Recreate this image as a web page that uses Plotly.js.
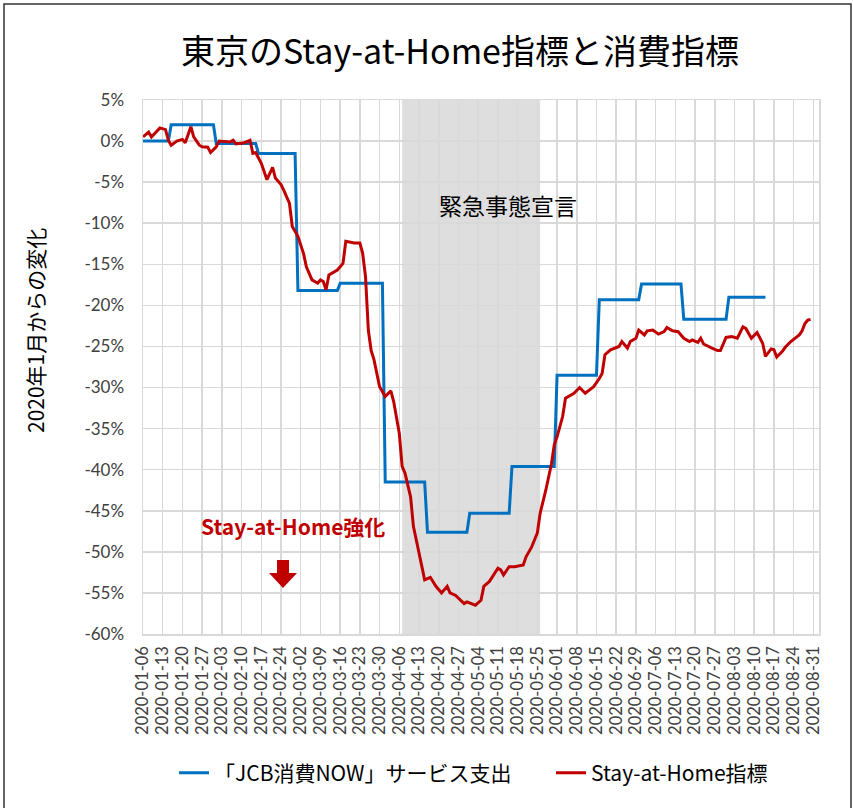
<!DOCTYPE html>
<html><head><meta charset="utf-8">
<script src="https://cdn.plot.ly/plotly-3.0.1.min.js"></script>
<style>html,body{margin:0;padding:0;background:#fff}#chart{width:853px;height:808px}</style>
</head><body><div id="chart"></div>
<script>
// ---- data ----
const weekLabels = ['2020-01-06','2020-01-13','2020-01-20','2020-01-27','2020-02-03','2020-02-10','2020-02-17','2020-02-24',
  '2020-03-02','2020-03-09','2020-03-16','2020-03-23','2020-03-30','2020-04-06','2020-04-13','2020-04-20','2020-04-27',
  '2020-05-04','2020-05-11','2020-05-18','2020-05-25','2020-06-01','2020-06-08','2020-06-15','2020-06-22','2020-06-29',
  '2020-07-06','2020-07-13','2020-07-20','2020-07-27','2020-08-03','2020-08-10','2020-08-17','2020-08-24','2020-08-31'];
const yTicks = [5,0,-5,-10,-15,-20,-25,-30,-35,-40,-45,-50,-55,-60];

// 「JCB消費NOW」サービス支出 (semi-monthly, % change)
const jcbStart = ['2020-01-06','2020-01-16','2020-02-01','2020-02-16','2020-03-01','2020-03-16','2020-04-01','2020-04-16',
  '2020-05-01','2020-05-16','2020-06-01','2020-06-16','2020-07-01','2020-07-16','2020-08-01'];
const jcbEnd = ['2020-01-15','2020-01-31','2020-02-15','2020-02-29','2020-03-15','2020-03-31','2020-04-15','2020-04-30',
  '2020-05-15','2020-05-31','2020-06-15','2020-06-30','2020-07-15','2020-07-31','2020-08-14'];
const jcbValues = [0.0, 2.0, -0.3, -1.5, -18.2, -17.3, -41.5, -47.6, -45.3, -39.6, -28.5, -19.3, -17.4, -21.7, -19.0];

// Stay-at-Home指標 (daily, % change)
const sahDates = ['2020-01-06','2020-01-08','2020-01-09','2020-01-12','2020-01-14','2020-01-15','2020-01-16','2020-01-18',
  '2020-01-20','2020-01-21','2020-01-23','2020-01-24','2020-01-26','2020-01-27','2020-01-29','2020-01-30','2020-02-01',
  '2020-02-02','2020-02-06','2020-02-07','2020-02-08','2020-02-11','2020-02-13','2020-02-14','2020-02-15','2020-02-17',
  '2020-02-19','2020-02-21','2020-02-22','2020-02-24','2020-02-25','2020-02-27','2020-02-28','2020-03-01','2020-03-03',
  '2020-03-04','2020-03-06','2020-03-08','2020-03-09','2020-03-10','2020-03-11','2020-03-12','2020-03-15','2020-03-17',
  '2020-03-18','2020-03-21','2020-03-23','2020-03-24','2020-03-25','2020-03-26','2020-03-27','2020-03-28','2020-03-30',
  '2020-04-01','2020-04-03','2020-04-04','2020-04-06','2020-04-07','2020-04-08','2020-04-10','2020-04-11','2020-04-13',
  '2020-04-15','2020-04-17','2020-04-19','2020-04-21','2020-04-23','2020-04-24','2020-04-26','2020-04-29','2020-04-30',
  '2020-05-03','2020-05-05','2020-05-06','2020-05-08','2020-05-11','2020-05-12','2020-05-13','2020-05-15','2020-05-17',
  '2020-05-20','2020-05-21','2020-05-23','2020-05-25','2020-05-26','2020-05-28','2020-05-30','2020-05-31','2020-06-01',
  '2020-06-03','2020-06-04','2020-06-07','2020-06-09','2020-06-11','2020-06-14','2020-06-16','2020-06-17','2020-06-18',
  '2020-06-20','2020-06-23','2020-06-24','2020-06-26','2020-06-27','2020-06-29','2020-06-30','2020-07-02','2020-07-03',
  '2020-07-05','2020-07-07','2020-07-09','2020-07-10','2020-07-12','2020-07-14','2020-07-16','2020-07-18','2020-07-19',
  '2020-07-21','2020-07-22','2020-07-23','2020-07-26','2020-07-28','2020-07-29','2020-07-31','2020-08-02','2020-08-04',
  '2020-08-06','2020-08-07','2020-08-09','2020-08-11','2020-08-13','2020-08-14','2020-08-16','2020-08-17','2020-08-18',
  '2020-08-20','2020-08-21','2020-08-23','2020-08-26','2020-08-27','2020-08-28','2020-08-29','2020-08-30'];
const sahValues = [0.5,1.1,0.5,1.6,1.4,0.1,-0.5,0.0,
  0.2,-0.2,1.75,0.5,-0.5,-0.7,-0.75,-1.4,-0.7,
  0.0,-0.1,0.1,-0.35,-0.2,0.1,-1.5,-1.4,-2.7,
  -4.7,-3.2,-4.5,-5.3,-6.0,-7.6,-10.4,-11.6,-13.7,
  -15.3,-16.9,-17.3,-16.9,-17.1,-18.1,-16.3,-15.7,-14.9,
  -12.2,-12.4,-12.4,-13.7,-16.5,-23.0,-25.5,-26.6,-29.9,
  -31.1,-30.4,-31.7,-35.6,-39.6,-40.4,-43.3,-46.9,-50.2,
  -53.4,-53.1,-54.2,-55.0,-54.2,-55.0,-55.3,-56.3,-56.1,
  -56.5,-55.9,-54.2,-53.6,-52.0,-52.2,-52.8,-51.8,-51.8,
  -51.6,-50.6,-49.4,-47.7,-45.3,-42.5,-39.3,-37.0,-36.0,
  -33.5,-31.3,-30.7,-30.0,-30.7,-29.9,-28.9,-28.3,-26.0,
  -25.4,-25.0,-24.4,-25.2,-24.4,-24.0,-23.0,-23.6,-23.1,
  -23.0,-23.5,-23.2,-22.7,-23.1,-23.2,-24.0,-24.4,-24.2,
  -24.5,-24.0,-24.7,-25.2,-25.5,-25.5,-23.9,-23.8,-24.0,
  -22.6,-22.8,-24.0,-23.3,-24.6,-26.2,-25.3,-25.4,-26.3,
  -25.6,-25.1,-24.4,-23.6,-23.1,-22.2,-21.8,-21.7];

const emergencyStart = '2020-04-07';
const emergencyEnd = '2020-05-26';

// ---- layout geometry ----
const W = 853, H = 808;
const M = {l: 143, r: 34, t: 100, b: 174, autoexpand: false};
const PW = W - M.l - M.r, PH = H - M.t - M.b;
const px2x = p => (p - M.l) / PW;
const px2y = p => (H - M.b - p) / PH;

// build step trace from periods
const jcbX = [], jcbY = [];
jcbValues.forEach((v, i) => { jcbX.push(jcbStart[i], jcbEnd[i]); jcbY.push(v, v); });

const BLUE = '#0070C0', RED = '#C00000';
const CJK = "'Noto Sans CJK JP', 'Noto Sans', sans-serif";
const TICKF = "Lato, 'Noto Sans', sans-serif";

const traces = [
  {x: jcbX, y: jcbY, type: 'scatter', mode: 'lines', name: '「JCB消費NOW」サービス支出',
   line: {color: BLUE, width: 3}, legend: 'legend'},
  {x: sahDates, y: sahValues, type: 'scatter', mode: 'lines', name: 'Stay-at-Home指標',
   line: {color: RED, width: 3}, legend: 'legend2'}
];

// block arrow (decoration) in pixel coords -> paper
const arrowPx = [[277,560],[289,560],[289,573],[297,573],[283,588],[269,573],[277,573]];
const arrowPath = 'M' + arrowPx.map(p => px2x(p[0]).toFixed(4) + ',' + px2y(p[1]).toFixed(4)).join(' L') + ' Z';

const legendBase = {orientation: 'h', yanchor: 'middle', xanchor: 'left', y: px2y(773),
  font: {family: CJK, size: 21, color: '#000'}, itemwidth: 30, bgcolor: 'rgba(0,0,0,0)'};

const layout = {
  width: W, height: H,
  margin: M,
  paper_bgcolor: '#fff', plot_bgcolor: '#fff',
  title: {text: '東京のStay-at-Home指標と消費指標', font: {family: CJK, size: 34, color: '#000'},
          x: 460 / W, xref: 'container', xanchor: 'center', y: 1 - 52 / H, yref: 'container', yanchor: 'middle'},
  xaxis: {type: 'date', range: ['2020-01-06', '2020-09-02'],
          tickmode: 'array', tickvals: weekLabels, ticktext: weekLabels, tickangle: -90,
          tickfont: {family: TICKF, size: 16.5, color: '#404040'}, ticklabelstandoff: 4,
          showgrid: true, gridcolor: '#d9d9d9', gridwidth: 1.5,
          showline: true, mirror: true, linecolor: '#d9d9d9', linewidth: 1.5,
          ticks: '', zeroline: false, fixedrange: true, automargin: false},
  yaxis: {range: [-60, 5], tickmode: 'array', tickvals: yTicks, ticktext: yTicks.map(v => v + '%'),
          tickfont: {family: TICKF, size: 17, color: '#404040'}, ticklabelstandoff: 14,
          showgrid: true, gridcolor: '#d9d9d9', gridwidth: 1.5,
          showline: true, mirror: true, linecolor: '#d9d9d9', linewidth: 1.5,
          ticks: '', zeroline: false, fixedrange: true, automargin: false},
  showlegend: true,
  legend: Object.assign({}, legendBase, {x: px2x(174)}),
  legend2: Object.assign({}, legendBase, {x: px2x(551)}),
  shapes: [
    {type: 'rect', xref: 'x', yref: 'paper', x0: emergencyStart, x1: emergencyEnd, y0: 0, y1: 1,
     fillcolor: '#dedede', line: {width: 0}, layer: 'below'},
    {type: 'path', xref: 'paper', yref: 'paper', path: arrowPath, fillcolor: RED, line: {width: 0}},
    {type: 'rect', xref: 'paper', yref: 'paper', x0: px2x(4), x1: px2x(851), y0: px2y(4), y1: px2y(830),
     line: {color: '#333', width: 1.5}, fillcolor: 'rgba(0,0,0,0)'}
  ],
  annotations: [
    {text: '緊急事態宣言', xref: 'paper', yref: 'paper', x: px2x(508), y: px2y(205),
     xanchor: 'center', yanchor: 'middle',
     showarrow: false, font: {family: CJK, size: 23, color: '#000'}},
    {text: '<b>Stay-at-Home強化</b>', xref: 'paper', yref: 'paper', x: px2x(293), y: px2y(526),
     xanchor: 'center', yanchor: 'middle',
     showarrow: false, font: {family: CJK, size: 21, color: RED}},
    {text: '2020年1月からの変化', xref: 'paper', yref: 'paper', x: px2x(35), y: px2y(330),
     xanchor: 'center', yanchor: 'middle',
     textangle: -90, showarrow: false, font: {family: CJK, size: 21, color: '#000'}}
  ]
};

Plotly.newPlot('chart', traces, layout, {displayModeBar: false, staticPlot: true});
</script></body></html>
